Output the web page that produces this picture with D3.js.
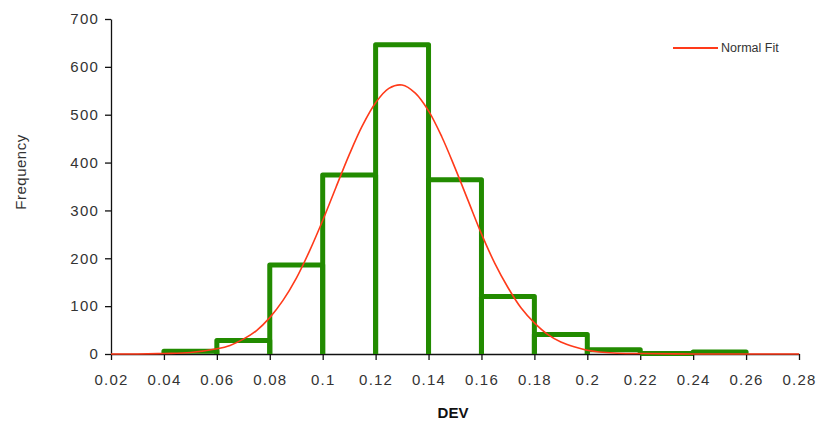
<!DOCTYPE html>
<html lang="en">
<head>
    <meta charset="UTF-8">
    <title>DEV Histogram with Normal Fit</title>
    <style>
        body, html {
            margin: 0;
            padding: 0;
            background: #fff;
            overflow: hidden;
        }
        text {
            font-family: "Liberation Sans", Arial, sans-serif;
            fill: #333;
        }
        .tick text {
            font-size: 15px;
            letter-spacing: 1.2px;
        }
        .bar {
            fill: none;
            stroke: #228b00;
            stroke-width: 5px;
            stroke-linejoin: round;
        }
        .fit {
            fill: none;
            stroke: #ff3a1a;
            stroke-width: 1.6px;
        }
    </style>
</head>
<body>
    <script src="https://d3js.org/d3.v7.min.js"></script>
    <script>
        const width = 822;
        const height = 431;

        // histogram bins (left edge) and counts
        const binStarts = [0.02, 0.04, 0.06, 0.08, 0.10, 0.12, 0.14, 0.16, 0.18, 0.20, 0.22, 0.24, 0.26];
        const binWidth = 0.02;
        const counts = [0, 6, 28, 186, 374, 646, 364, 120, 41, 9, 1, 4, 0];

        // normal fit curve
        const fitX = [0.02, 0.03, 0.04, 0.05, 0.06, 0.065, 0.07, 0.075, 0.08, 0.085, 0.09, 0.095,
                      0.10, 0.105, 0.11, 0.115, 0.12, 0.125, 0.13, 0.135, 0.14, 0.145, 0.15, 0.155,
                      0.16, 0.165, 0.17, 0.175, 0.18, 0.185, 0.19, 0.195, 0.20, 0.21, 0.22, 0.24, 0.26, 0.28];
        const fitY = [0, 0, 1, 3, 11, 18, 31, 49, 76, 112, 158, 215,
                      279, 348, 416, 477, 525, 555, 562, 545, 508, 454, 389, 320,
                      251, 190, 139, 96, 65, 41, 25, 15, 8, 2, 1, 0, 0, 0];

        const xTicks = [0.02, 0.04, 0.06, 0.08, 0.1, 0.12, 0.14, 0.16, 0.18, 0.2, 0.22, 0.24, 0.26, 0.28];
        const yTicks = [0, 100, 200, 300, 400, 500, 600, 700];

        const margin = { left: 111, right: 23, top: 19, bottom: 77 };

        const x = d3.scaleLinear().domain([0.02, 0.28]).range([margin.left, width - margin.right]);
        const y = d3.scaleLinear().domain([0, 700]).range([height - margin.bottom, margin.top]);

        const svg = d3.select("body").append("svg")
            .attr("width", width)
            .attr("height", height);

        // axes
        const xAxis = svg.append("g")
            .attr("transform", `translate(0,${y(0)})`)
            .call(d3.axisBottom(x).tickValues(xTicks).tickFormat(d3.format("")).tickSize(6).tickSizeOuter(0));
        xAxis.selectAll("text").attr("dy", "1.45em");

        const yAxis = svg.append("g")
            .attr("transform", `translate(${x(0.02)},0)`)
            .call(d3.axisLeft(y).tickValues(yTicks).tickSize(6).tickSizeOuter(0));
        yAxis.selectAll("text").attr("dx", "-0.2em");

        svg.selectAll(".domain, .tick line").attr("stroke", "#111").attr("stroke-width", 1.3);

        // bars: left, top and right edges only (no bottom edge); empty bins are not drawn
        svg.append("g").selectAll("path")
            .data(binStarts.map((b, i) => ({ x0: b, x1: b + binWidth, v: counts[i] })).filter(d => d.v > 0))
            .enter().append("path")
            .attr("class", "bar")
            .attr("d", d => {
                const p = d3.path();
                p.moveTo(x(d.x0), y(0));
                p.lineTo(x(d.x0), y(d.v));
                p.lineTo(x(d.x1), y(d.v));
                p.lineTo(x(d.x1), y(0));
                return p.toString();
            });

        // normal fit curve
        const line = d3.line()
            .x(d => x(d[0]))
            .y(d => y(d[1]))
            .curve(d3.curveCatmullRom);

        svg.append("path")
            .datum(fitX.map((v, i) => [v, fitY[i]]))
            .attr("class", "fit")
            .attr("d", line);

        // axis titles
        svg.append("text")
            .attr("x", 453)
            .attr("y", 418)
            .attr("text-anchor", "middle")
            .style("font-size", "15px")
            .style("font-weight", "bold")
            .style("fill", "#111")
            .text("DEV");

        svg.append("text")
            .attr("transform", "translate(26,172) rotate(-90)")
            .attr("text-anchor", "middle")
            .style("font-size", "15px")
            .style("letter-spacing", "0.5px")
            .text("Frequency");

        // legend
        const legend = svg.append("g").attr("transform", "translate(673,48)");
        legend.append("line")
            .attr("x1", 0).attr("x2", 45)
            .attr("y1", 0).attr("y2", 0)
            .attr("class", "fit")
            .style("stroke-width", "2px");
        legend.append("text")
            .attr("x", 48)
            .attr("y", 4)
            .style("font-size", "12.5px")
            .text("Normal Fit");
    </script>
</body>
</html>
